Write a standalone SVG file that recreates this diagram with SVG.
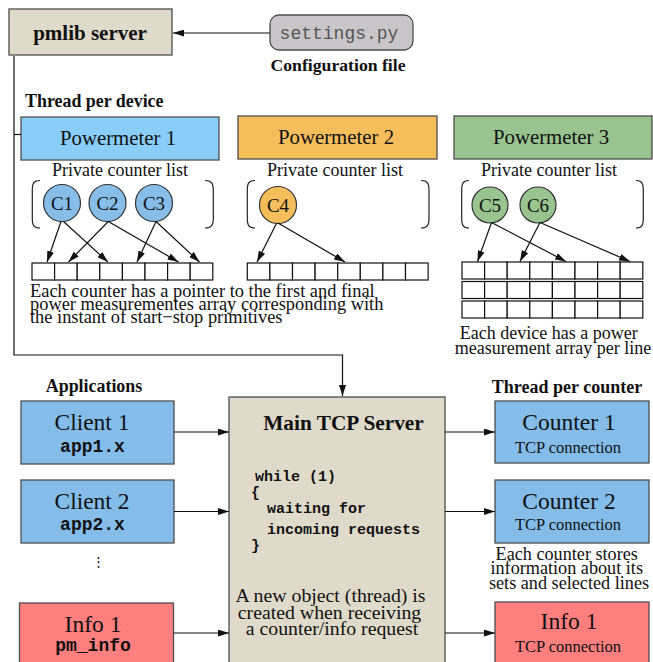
<svg xmlns="http://www.w3.org/2000/svg" width="653" height="662" viewBox="0 0 653 662">
  <style>
    .box { stroke: #4d4d4d; stroke-width: 1.3; }
    .serif { font-family: "Liberation Serif", "Times New Roman", serif; fill: #111; }
    .bold { font-weight: bold; }
    .mono { font-family: "Liberation Mono", "Courier New", monospace; font-weight: bold; fill: #111; }
    .cell { fill: #fff; stroke: #111; stroke-width: 1.2; }
    .wire { fill: none; stroke: #111; stroke-width: 1.2; }
    .bracket { fill: none; stroke: #222; stroke-width: 1.2; }
    .circ { stroke: #333; stroke-width: 1.2; }
    .mid { text-anchor: middle; }
  </style>
  <defs>
    <marker id="arrow" viewBox="0 0 11 7" refX="11" refY="3.5" markerWidth="11" markerHeight="7" markerUnits="userSpaceOnUse" orient="auto">
      <path d="M0,0 L11,3.5 L0,7 Z" fill="#111"/>
    </marker>
    <!-- one row of eight array cells, 181 wide -->
    <g id="row">
      <rect class="cell" x="0" y="0" width="22.6" height="17"/>
      <rect class="cell" x="22.6" y="0" width="22.6" height="17"/>
      <rect class="cell" x="45.2" y="0" width="22.6" height="17"/>
      <rect class="cell" x="67.8" y="0" width="22.6" height="17"/>
      <rect class="cell" x="90.4" y="0" width="22.6" height="17"/>
      <rect class="cell" x="113" y="0" width="22.6" height="17"/>
      <rect class="cell" x="135.6" y="0" width="22.6" height="17"/>
      <rect class="cell" x="158.2" y="0" width="22.6" height="17"/>
    </g>
  </defs>

  <rect width="653" height="662" fill="#fff"/>

  <!-- top: server and configuration -->
  <g id="pmlib-server">
    <rect class="box" x="9" y="9" width="163" height="46" fill="#e0dacb"/>
    <text class="serif bold mid" x="90" y="40" font-size="21">pmlib server</text>
  </g>
  <g id="settings">
    <rect class="box" x="270" y="15" width="143" height="35" rx="9" fill="#c9c5c9"/>
    <text x="339" y="38.5" font-size="18" text-anchor="middle" font-family="Liberation Mono, Courier New, monospace" fill="#555">settings.py</text>
    <text class="serif bold mid" x="338" y="71" font-size="17.7">Configuration file</text>
  </g>

  <text class="serif bold" x="25" y="107" font-size="17.9">Thread per device</text>

  <!-- device threads -->
  <g id="powermeter-1">
    <rect class="box" x="21" y="117" width="198" height="43" fill="#89cdf9"/>
    <text class="serif mid" x="118" y="145" font-size="20.8">Powermeter 1</text>
    <text class="serif mid" x="120" y="176" font-size="18">Private counter list</text>
    <path class="bracket" d="M40,180.5 C34,180.5 32.3,183 32.3,190 L32.3,218.5 C32.3,225.5 34,228 40,228"/>
    <path class="bracket" d="M205,180.5 C211,180.5 213.3,183 213.3,190 L213.3,218.5 C213.3,225.5 211,228 205,228"/>
    <g id="c1"><circle class="circ" cx="62" cy="203" r="18.5" fill="#86bee9"/><text class="serif mid" x="62" y="209.5" font-size="19">C1</text></g>
    <g id="c2"><circle class="circ" cx="107.5" cy="203" r="18.5" fill="#86bee9"/><text class="serif mid" x="107.5" y="209.5" font-size="19">C2</text></g>
    <g id="c3"><circle class="circ" cx="154" cy="203" r="18.5" fill="#86bee9"/><text class="serif mid" x="154" y="209.5" font-size="19">C3</text></g>
    <use href="#row" x="32" y="263"/>
    <text class="serif" font-size="18.4">
      <tspan x="30" y="297">Each counter has a pointer to the first and final</tspan>
      <tspan x="30" y="310">power measurementes array corresponding with</tspan>
      <tspan x="30" y="322.5">the instant of start−stop primitives</tspan>
    </text>
  </g>

  <g id="powermeter-2">
    <rect class="box" x="238" y="116" width="199" height="43" fill="#f5be5b"/>
    <text class="serif mid" x="336" y="144" font-size="20.8">Powermeter 2</text>
    <text class="serif mid" x="335" y="176" font-size="18">Private counter list</text>
    <path class="bracket" d="M255,180.5 C249,180.5 247.3,183 247.3,190 L247.3,218.5 C247.3,225.5 249,228 255,228"/>
    <path class="bracket" d="M421,180.5 C427,180.5 429,183 429,190 L429,218.5 C429,225.5 427,228 421,228"/>
    <g id="c4"><circle class="circ" cx="278" cy="205" r="18.5" fill="#f5be5b"/><text class="serif mid" x="278" y="211.5" font-size="19">C4</text></g>
    <use href="#row" x="247.3" y="263"/>
  </g>

  <g id="powermeter-3">
    <rect class="box" x="454" y="116" width="198" height="43" fill="#99c48f"/>
    <text class="serif mid" x="551" y="144" font-size="20.8">Powermeter 3</text>
    <text class="serif mid" x="549" y="176" font-size="18">Private counter list</text>
    <path class="bracket" d="M469,180.5 C463.5,180.5 461.7,183 461.7,190 L461.7,218.5 C461.7,225.5 463.5,228 469,228"/>
    <path class="bracket" d="M636,180.5 C641.5,180.5 643.3,183 643.3,190 L643.3,218.5 C643.3,225.5 641.5,228 636,228"/>
    <g id="c5"><circle class="circ" cx="490" cy="205" r="18" fill="#99c48f"/><text class="serif mid" x="490" y="211.5" font-size="19">C5</text></g>
    <g id="c6"><circle class="circ" cx="538" cy="205" r="18" fill="#99c48f"/><text class="serif mid" x="538" y="211.5" font-size="19">C6</text></g>
    <use href="#row" x="462" y="262"/>
    <use href="#row" x="462" y="281.5"/>
    <use href="#row" x="462" y="301"/>
    <text class="serif mid" font-size="18">
      <tspan x="551" y="339">Each device has a power</tspan>
      <tspan x="553" y="354">measurement array per line</tspan>
    </text>
  </g>

  <!-- applications -->
  <text class="serif bold mid" x="94" y="392" font-size="17.9">Applications</text>
  <g id="client-1">
    <rect class="box" x="21" y="401" width="153" height="63" fill="#85bdea"/>
    <text class="serif mid" x="92" y="430" font-size="23.5">Client 1</text>
    <text class="mono mid" x="92.5" y="452" font-size="18">app1.x</text>
  </g>
  <g id="client-2">
    <rect class="box" x="21" y="480" width="153" height="63" fill="#85bdea"/>
    <text class="serif mid" x="92" y="509" font-size="23.5">Client 2</text>
    <text class="mono mid" x="92.5" y="530" font-size="18">app2.x</text>
  </g>
  <text class="serif mid" x="98" y="566" font-size="13">⋮</text>
  <g id="info-client">
    <rect class="box" x="19.5" y="603" width="154" height="80" fill="#ff7f7f"/>
    <text class="serif mid" x="93" y="632" font-size="23.5">Info 1</text>
    <text class="mono mid" x="93" y="651" font-size="18">pm_info</text>
  </g>

  <!-- main server -->
  <g id="main-tcp-server">
    <rect class="box" x="229" y="397" width="216" height="290" fill="#e0dacb"/>
    <text class="serif bold mid" x="343.5" y="430" font-size="21.3">Main TCP Server</text>
    <text class="mono" font-size="15">
      <tspan x="255" y="481">while (1)</tspan>
      <tspan x="251" y="497">{</tspan>
      <tspan x="267" y="513">waiting for</tspan>
      <tspan x="267" y="534">incoming requests</tspan>
      <tspan x="251" y="550">}</tspan>
    </text>
    <text class="serif mid" font-size="19.8">
      <tspan x="333" y="602">A new object (thread) is</tspan>
      <tspan x="332" y="618.5">created when receiving</tspan>
      <tspan x="332" y="635">a counter/info request</tspan>
    </text>
  </g>

  <!-- counter threads -->
  <text class="serif bold mid" x="567" y="392.5" font-size="18">Thread per counter</text>
  <g id="counter-1">
    <rect class="box" x="495" y="401" width="154" height="62" fill="#85bdea"/>
    <text class="serif mid" x="569" y="430" font-size="23.5">Counter 1</text>
    <text class="serif mid" x="568" y="453" font-size="16.5">TCP connection</text>
  </g>
  <g id="counter-2">
    <rect class="box" x="495" y="480" width="154" height="63" fill="#85bdea"/>
    <text class="serif mid" x="569" y="509" font-size="23.5">Counter 2</text>
    <text class="serif mid" x="568" y="530" font-size="16.5">TCP connection</text>
  </g>
  <text class="serif mid" font-size="18.2">
    <tspan x="569" y="559.5">Each counter stores</tspan>
    <tspan x="569" y="574">information about its</tspan>
    <tspan x="569" y="588.5">sets and selected lines</tspan>
  </text>
  <g id="info-thread">
    <rect class="box" x="495" y="602" width="154" height="80" fill="#ff7f7f"/>
    <text class="serif mid" x="569" y="629" font-size="23.5">Info 1</text>
    <text class="serif mid" x="568" y="652" font-size="16.5">TCP connection</text>
  </g>

  <!-- connectors -->
  <g id="connectors">
    <line class="wire" x1="270" y1="33" x2="173" y2="33" marker-end="url(#arrow)"/>
    <path class="wire" d="M14,56 V355 H342.5 V396" marker-end="url(#arrow)"/>
    <line class="wire" x1="14" y1="134.5" x2="21" y2="134.5"/>

    <line class="wire" x1="61" y1="221.5" x2="47" y2="262" marker-end="url(#arrow)"/>
    <line class="wire" x1="63.5" y1="221.5" x2="108" y2="262" marker-end="url(#arrow)"/>
    <line class="wire" x1="108.3" y1="221.5" x2="68.5" y2="262" marker-end="url(#arrow)"/>
    <line class="wire" x1="108.3" y1="221.5" x2="178.5" y2="262" marker-end="url(#arrow)"/>
    <line class="wire" x1="156" y1="221.5" x2="137" y2="262" marker-end="url(#arrow)"/>
    <line class="wire" x1="156" y1="221.5" x2="199.5" y2="262" marker-end="url(#arrow)"/>

    <line class="wire" x1="276.7" y1="223" x2="257" y2="262" marker-end="url(#arrow)"/>
    <line class="wire" x1="278" y1="223" x2="345" y2="262" marker-end="url(#arrow)"/>

    <line class="wire" x1="491.5" y1="222.5" x2="477.5" y2="261.5" marker-end="url(#arrow)"/>
    <line class="wire" x1="491.5" y1="222.5" x2="566" y2="261.5" marker-end="url(#arrow)"/>
    <line class="wire" x1="540" y1="222.5" x2="520" y2="261.5" marker-end="url(#arrow)"/>
    <line class="wire" x1="540" y1="222.5" x2="630" y2="261.5" marker-end="url(#arrow)"/>

    <line class="wire" x1="174" y1="432" x2="229" y2="432" marker-end="url(#arrow)"/>
    <line class="wire" x1="174" y1="511.5" x2="229" y2="511.5" marker-end="url(#arrow)"/>
    <line class="wire" x1="174" y1="633" x2="229" y2="633" marker-end="url(#arrow)"/>
    <line class="wire" x1="445" y1="432" x2="495" y2="432" marker-end="url(#arrow)"/>
    <line class="wire" x1="445" y1="511.5" x2="495" y2="511.5" marker-end="url(#arrow)"/>
    <line class="wire" x1="445" y1="633" x2="495" y2="633" marker-end="url(#arrow)"/>
  </g>
</svg>
